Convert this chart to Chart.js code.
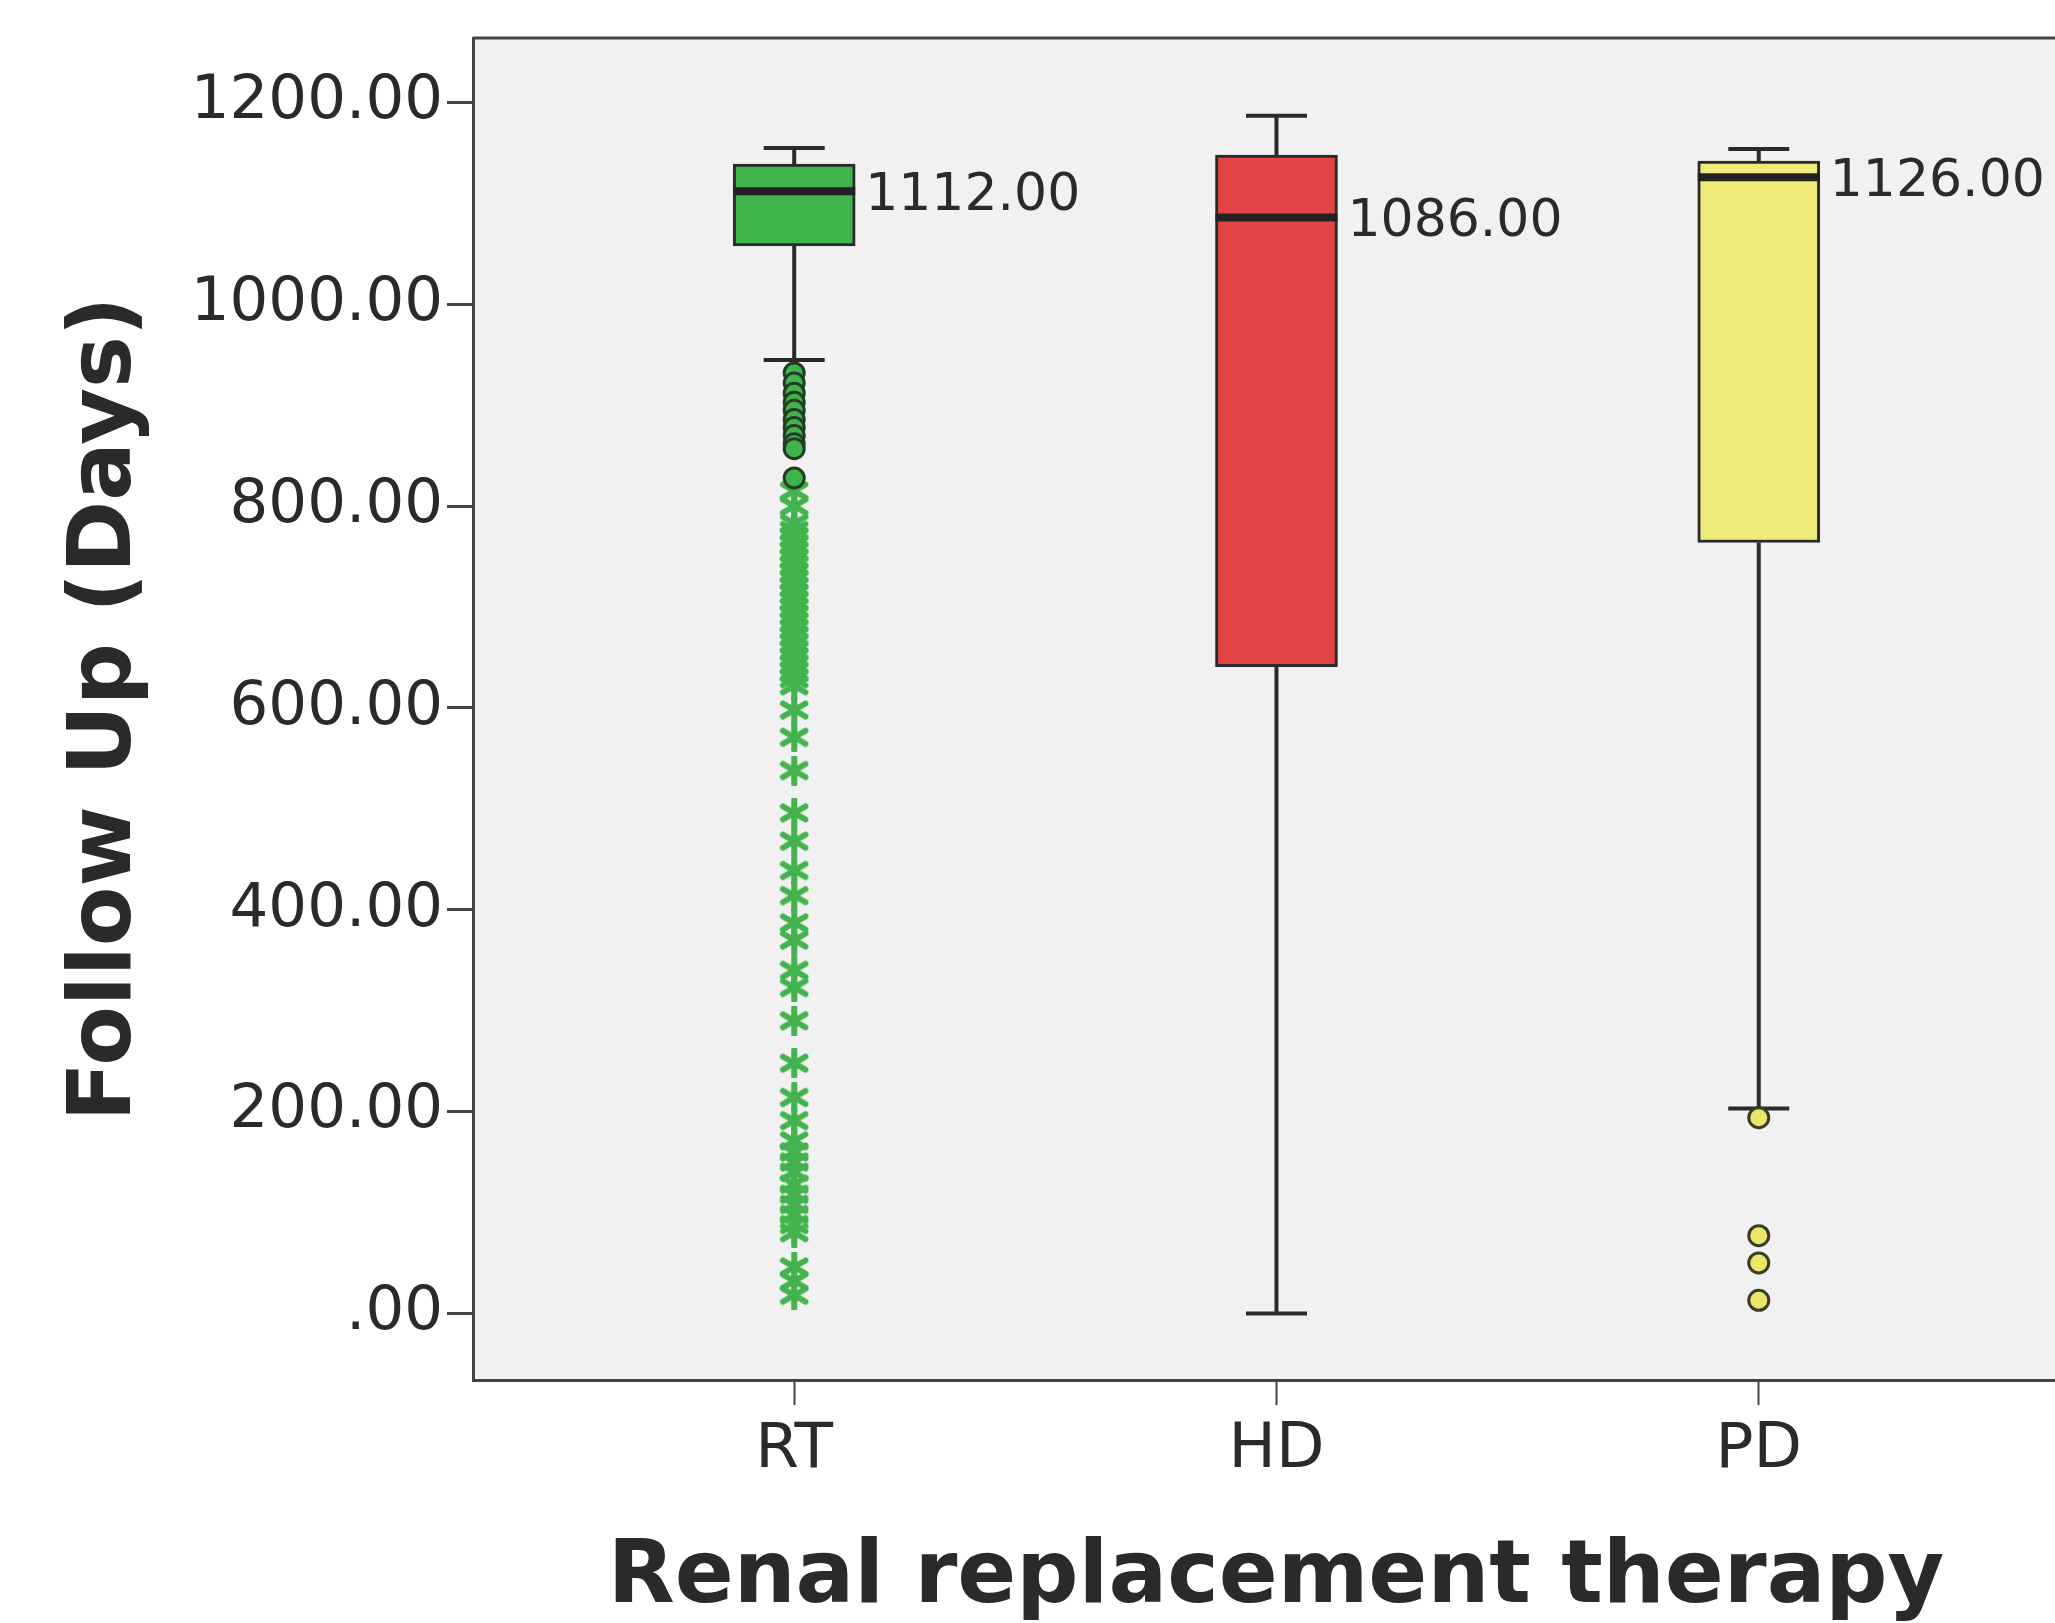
<!DOCTYPE html>
<html>
<head>
<meta charset="utf-8">
<script src="https://cdn.jsdelivr.net/npm/chart.js@4.4.1/dist/chart.umd.min.js"></script>
<style>
  html, body { margin: 0; padding: 0; background: #fff; overflow: hidden; }
  canvas { display: block; }
</style>
</head>
<body>
<canvas id="chart" width="2095" height="1623"></canvas>
<script>
// box plot summary per group (days)
const categories = ['RT', 'HD', 'PD'];
const medians = [1112, 1086, 1126];
const q1 = [1058, 641, 764];
const q3 = [1139, 1148, 1142];
const whiskerLow = [945, 0, 203];
const whiskerHigh = [1155, 1187, 1154];
const boxColors = ['#3fb44b', '#e24444', '#eeeb7a'];

// outliers (circles) and extremes (stars)
const rtCircles = [932, 922, 912, 903, 895, 886, 878, 870, 862, 857, 828];
const rtStars = [815, 800, 783, 776, 769, 762, 755, 748, 741, 734, 727, 720, 713, 706,
  699, 692, 685, 678, 671, 664, 657, 650, 643, 636, 629, 622, 598, 571, 538, 496, 468,
  439, 414, 387, 370, 340, 323, 290, 248, 214, 191, 171, 160, 150, 140, 128, 118, 108,
  98, 88, 80, 46, 32, 18];
const pdCircles = [194, 77, 50, 13];

const xTicks = [1, 2, 3];
const yTicks = [0, 200, 400, 600, 800, 1000, 1200];
const yTickLabels = ['.00', '200.00', '400.00', '600.00', '800.00', '1000.00', '1200.00'];

const BOX_W = 122;
const frameColor = '#444';
const textColor = '#2a2a2a';

// six-armed asterisk like the SPSS "extreme" marker
function makeAsterisk(size, color) {
    const c = document.createElement('canvas');
    c.width = size;
    c.height = size;
    const g = c.getContext('2d');
    const r = size / 2 - 2;
    g.translate(size / 2, size / 2);
    g.strokeStyle = color;
    g.lineWidth = 6;
    g.lineCap = 'round';
    for (let k = 0; k < 3; k++) {
        const ang = Math.PI / 2 + k * Math.PI / 3;
        g.beginPath();
        g.moveTo(Math.cos(ang) * r, Math.sin(ang) * r);
        g.lineTo(-Math.cos(ang) * r, -Math.sin(ang) * r);
        g.stroke();
    }
    return c;
}

const boxParts = {
    id: 'boxParts',
    beforeDraw(chart) {
        const { ctx, chartArea: a } = chart;
        ctx.save();
        ctx.fillStyle = '#f0f1f0';
        ctx.fillRect(a.left, a.top, a.right - a.left, a.bottom - a.top);
        ctx.strokeStyle = frameColor;
        ctx.lineWidth = 3;
        ctx.beginPath();
        ctx.moveTo(a.left, a.top);
        ctx.lineTo(a.right, a.top);
        ctx.stroke();
        ctx.restore();
    },
    beforeDatasetsDraw(chart) {
        const { ctx } = chart;
        const xs = chart.scales.x, ys = chart.scales.y;
        ctx.save();
        ctx.strokeStyle = '#2a2a2a';
        ctx.lineWidth = 4;
        categories.forEach((c, i) => {
            const x = xs.getPixelForValue(i + 1);
            const half = BOX_W / 4;
            const yHi = ys.getPixelForValue(whiskerHigh[i]);
            const yLo = ys.getPixelForValue(whiskerLow[i]);
            ctx.beginPath();
            ctx.moveTo(x, ys.getPixelForValue(q3[i]));
            ctx.lineTo(x, yHi);
            ctx.moveTo(x - half, yHi);
            ctx.lineTo(x + half, yHi);
            ctx.moveTo(x, ys.getPixelForValue(q1[i]));
            ctx.lineTo(x, yLo);
            ctx.moveTo(x - half, yLo);
            ctx.lineTo(x + half, yLo);
            ctx.stroke();
        });
        ctx.restore();
    },
    afterDatasetsDraw(chart) {
        const { ctx } = chart;
        const xs = chart.scales.x, ys = chart.scales.y;
        ctx.save();
        categories.forEach((c, i) => {
            const x = xs.getPixelForValue(i + 1);
            const y = ys.getPixelForValue(medians[i]);
            ctx.strokeStyle = '#222';
            ctx.lineWidth = 8;
            ctx.beginPath();
            ctx.moveTo(x - BOX_W / 2, y);
            ctx.lineTo(x + BOX_W / 2, y);
            ctx.stroke();
            ctx.fillStyle = textColor;
            ctx.font = '52px "DejaVu Sans"';
            ctx.textAlign = 'left';
            ctx.textBaseline = 'middle';
            ctx.fillText(medians[i].toFixed(2), x + BOX_W / 2 + 10, y + 5);
        });
        ctx.restore();
    }
};

const ctx = document.getElementById('chart').getContext('2d');
new Chart(ctx, {
    type: 'bar',
    data: {
        datasets: [
            {
                type: 'scatter',
                data: rtStars.map(v => ({ x: 1, y: v })),
                pointStyle: makeAsterisk(30, '#42b34d'),
                radius: 15,
                order: 1
            },
            {
                type: 'scatter',
                data: rtCircles.map(v => ({ x: 1, y: v })),
                pointStyle: 'circle',
                radius: 10,
                borderWidth: 3,
                borderColor: '#263a28',
                backgroundColor: '#3fb44b',
                order: 0
            },
            {
                type: 'scatter',
                data: pdCircles.map(v => ({ x: 3, y: v })),
                pointStyle: 'circle',
                radius: 10,
                borderWidth: 3,
                borderColor: '#3a3a2a',
                backgroundColor: '#e9e66a',
                order: 0
            },
            {
                type: 'bar',
                data: categories.map((c, i) => ({ x: i + 1, y: [q1[i], q3[i]] })),
                backgroundColor: boxColors,
                borderColor: '#2a2a2a',
                borderWidth: 3,
                borderSkipped: false,
                barThickness: BOX_W,
                grouped: false,
                order: 2
            }
        ]
    },
    options: {
        responsive: false,
        animation: false,
        devicePixelRatio: 1,
        layout: { padding: { top: 38, left: 0, right: 0, bottom: 0 } },
        plugins: {
            legend: { display: false },
            tooltip: { enabled: false }
        },
        scales: {
            x: {
                type: 'linear',
                min: 0.334,
                max: 3.664,
                offset: false,
                afterBuildTicks: s => { s.ticks = xTicks.map(v => ({ value: v })); },
                afterFit: s => { s.height = 243; },
                ticks: {
                    callback: v => categories[v - 1],
                    font: { family: 'DejaVu Sans', size: 63, lineHeight: 1 },
                    color: textColor,
                    padding: 14,
                    maxRotation: 0
                },
                grid: {
                    offset: false,
                    drawOnChartArea: false,
                    tickLength: 25,
                    tickWidth: 2,
                    tickColor: frameColor
                },
                border: { display: true, color: frameColor, width: 3 },
                title: {
                    display: true,
                    text: 'Renal replacement therapy',
                    color: textColor,
                    font: { family: 'DejaVu Sans', size: 87, weight: 'bold', lineHeight: 1 },
                    padding: { top: 0, bottom: 0 }
                }
            },
            y: {
                type: 'linear',
                min: -66,
                max: 1264,
                afterBuildTicks: s => { s.ticks = yTicks.map(v => ({ value: v })); },
                afterFit: s => { s.width = 473; },
                ticks: {
                    callback: (v, i) => yTickLabels[yTicks.indexOf(v)],
                    font: { family: 'DejaVu Sans', size: 61, lineHeight: 1 },
                    color: textColor,
                    padding: 4
                },
                grid: {
                    drawOnChartArea: false,
                    tickLength: 26,
                    tickWidth: 3,
                    tickColor: frameColor
                },
                border: { display: true, color: frameColor, width: 3 },
                title: {
                    display: true,
                    text: 'Follow Up (Days)',
                    color: textColor,
                    font: { family: 'DejaVu Sans', size: 87, weight: 'bold', lineHeight: 1 },
                    padding: { top: 64, bottom: 0 }
                }
            }
        }
    },
    plugins: [boxParts]
});
</script>
</body>
</html>
